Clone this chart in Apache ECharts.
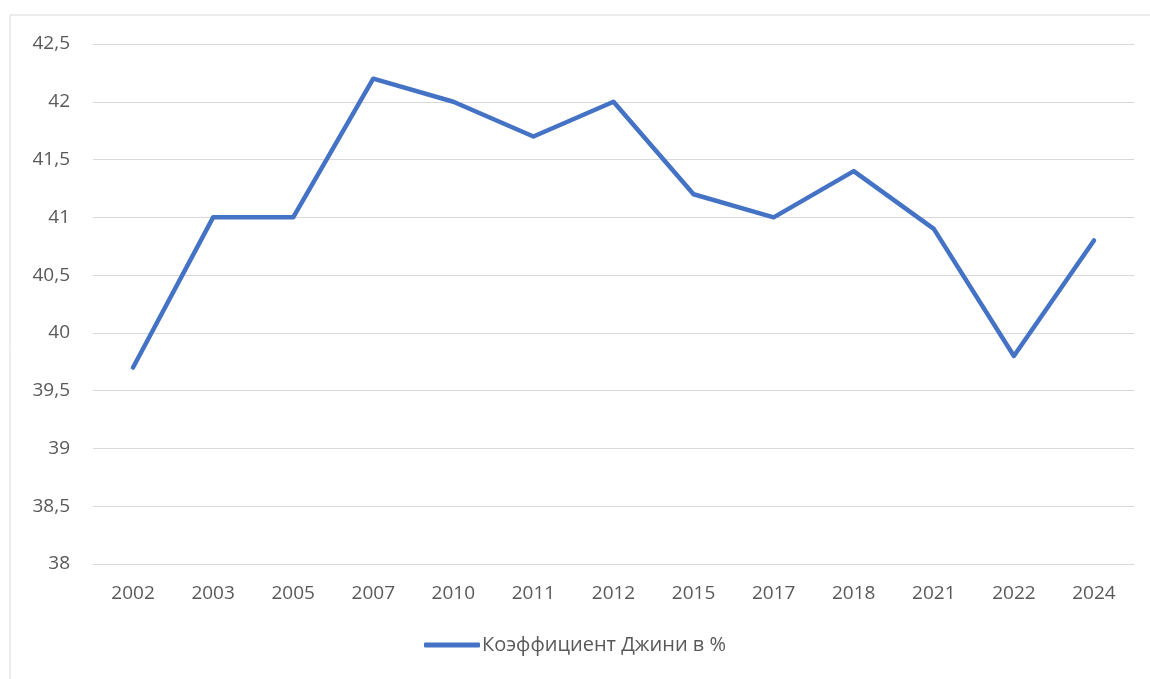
<!DOCTYPE html>
<html>
<head>
<meta charset="utf-8">
<script src="https://cdn.jsdelivr.net/npm/echarts@6/dist/echarts.min.js"></script>
<style>
  html, body { margin: 0; padding: 0; background: #fff; }
  #chart { width: 1150px; height: 679px; }
</style>
</head>
<body>
<div id="chart"></div>
<script>
// годы и значения коэффициента Джини
const years = ['2002', '2003', '2005', '2007', '2010', '2011', '2012', '2015', '2017', '2018', '2021', '2022', '2024'];
const gini = [39.7, 41, 41, 42.2, 42, 41.7, 42, 41.2, 41, 41.4, 40.9, 39.8, 40.8];
const seriesName = 'Коэффициент Джини в %';

const chart = echarts.init(document.getElementById('chart'));

const option = {
  animation: false,
  textStyle: { fontFamily: '"Open Sans", "Noto Sans", sans-serif' },
  // рамка области диаграммы
  graphic: [{
    type: 'rect',
    shape: { x: 10, y: 15, width: 1160, height: 700 },
    style: { fill: 'none', stroke: '#d9d9d9', lineWidth: 1 },
    silent: true
  }],
  grid: { left: 93, right: 16, top: 44, bottom: 115 },
  legend: {
    bottom: 19,
    left: 'center',
    itemWidth: 56,
    itemHeight: 5,
    itemGap: 10,
    icon: 'roundRect',
    textStyle: { color: '#595959', fontSize: 20, padding: [0, 0, 0, -3] },
    data: [seriesName]
  },
  xAxis: {
    type: 'category',
    data: years,
    boundaryGap: true,
    axisLine: { show: false },
    axisTick: { show: false },
    axisLabel: { color: '#595959', fontSize: 19, margin: 20 }
  },
  yAxis: {
    type: 'value',
    min: 38,
    max: 42.5,
    interval: 0.5,
    axisLine: { show: false },
    axisTick: { show: false },
    splitLine: { lineStyle: { color: '#d9d9d9', width: 1 } },
    axisLabel: {
      color: '#595959',
      fontSize: 19,
      margin: 23,
      formatter: v => String(v).replace('.', ',')
    }
  },
  series: [{
    name: seriesName,
    type: 'line',
    data: gini,
    symbol: 'none',
    lineStyle: { color: '#4472C4', width: 4.5, cap: 'round', join: 'round' },
    itemStyle: { color: '#4472C4' }
  }]
};

chart.setOption(option);
</script>
</body>
</html>
